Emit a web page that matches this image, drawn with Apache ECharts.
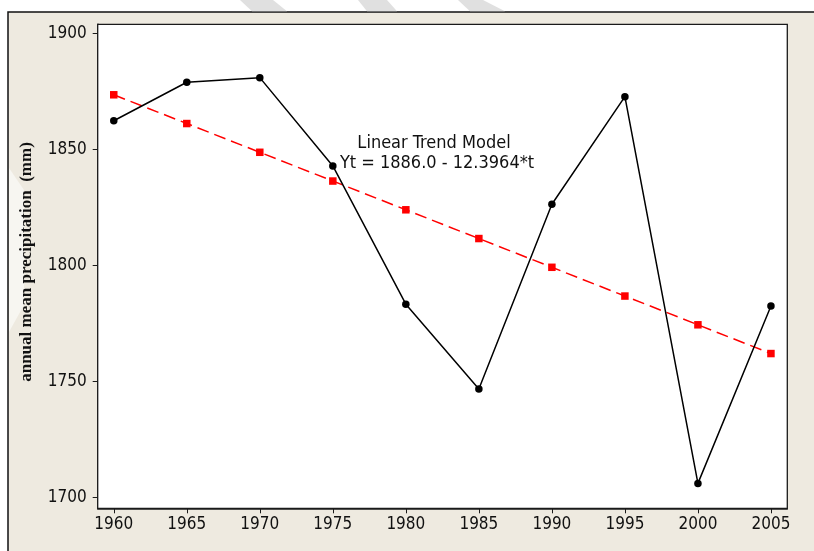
<!DOCTYPE html>
<html>
<head>
<meta charset="utf-8">
<script src="https://cdn.jsdelivr.net/npm/echarts@6/dist/echarts.min.js"></script>
<style>
  html, body { margin: 0; padding: 0; background: #ffffff; }
  #chart { width: 814px; height: 551px; }
</style>
</head>
<body>
<div id="chart"></div>
<script>
// Annual mean precipitation, 1960-2005, with a fitted linear trend
const years = [1960, 1965, 1970, 1975, 1980, 1985, 1990, 1995, 2000, 2005];
const precipitation = [1862.4, 1879.0, 1881.0, 1842.9, 1783.3, 1746.7, 1826.4, 1872.8, 1706.0, 1782.5];
// Fitted values of Yt = 1886.0 - 12.3964*t, t = 1..10
const trendFit = [1873.6, 1861.2, 1848.8, 1836.4, 1824.0, 1811.6, 1799.2, 1786.8, 1774.4, 1762.0];
const yTicks = [1700, 1750, 1800, 1850, 1900];
const yAxisTitle = 'annual mean precipitation  (mm)';
const trendTitle = 'Linear Trend Model';
const trendEquation = 'Yt = 1886.0 - 12.3964*t';

const labelFont = "'DejaVu Sans Condensed', 'Liberation Sans', sans-serif";
const beige = '#eeeae0';

const chart = echarts.init(document.getElementById('chart'), null, { renderer: 'canvas' });

chart.setOption({
  backgroundColor: '#ffffff',
  animation: false,
  grid: {
    left: 97.7, right: 26.7, top: 24.3, bottom: 42.7,
    show: true,
    backgroundColor: '#ffffff',
    borderColor: '#1a1a1a',
    borderWidth: 1.3,
    z: 2
  },
  xAxis: {
    type: 'value',
    min: 1958.9, max: 2006.12,
    axisLine: { show: true, onZero: false, lineStyle: { color: '#1a1a1a', width: 1.5 } },
    axisTick: { show: true, customValues: years, length: 5, lineStyle: { color: '#1a1a1a', width: 1 } },
    axisLabel: {
      customValues: years, margin: 8, color: '#111',
      fontFamily: labelFont, fontSize: 17,
      formatter: v => String(v)
    },
    splitLine: { show: false }
  },
  yAxis: {
    type: 'value',
    min: 1695.26, max: 1904.0,
    axisLine: { show: true, onZero: false, lineStyle: { color: '#1a1a1a', width: 1.5 } },
    axisTick: { show: true, customValues: yTicks, length: 5, lineStyle: { color: '#1a1a1a', width: 1 } },
    axisLabel: {
      customValues: yTicks, margin: 11, color: '#111',
      fontFamily: labelFont, fontSize: 17,
      formatter: v => String(v)
    },
    splitLine: { show: false }
  },
  graphic: [
    // outer panel
    {
      type: 'rect', z: -20, silent: true,
      shape: { x: 8, y: 12, width: 900, height: 600 },
      style: { fill: beige, stroke: '#111', lineWidth: 1.5 }
    },
    // faint diagonal bands of the page backdrop
    {
      type: 'polygon', z: -10, silent: true,
      shape: { points: [[240, 0], [273, 0], [287, 11.2], [252, 11.2]] },
      style: { fill: '#e0e0e0' }
    },
    {
      type: 'polygon', z: -10, silent: true,
      shape: { points: [[358, 0], [387, 0], [397, 11.2], [367, 11.2]] },
      style: { fill: '#e0e0e0' }
    },
    {
      type: 'polygon', z: -10, silent: true,
      shape: { points: [[458, 0], [483, 0], [505, 11.2], [470, 11.2]] },
      style: { fill: '#e0e0e0' }
    },
    {
      type: 'polygon', z: -10, silent: true,
      shape: { points: [[9, 168], [24, 190], [24, 305], [9, 332]] },
      style: { fill: 'rgba(255,255,255,0.55)' }
    },
    // y-axis title
    {
      type: 'text', z: 10, silent: true,
      x: 26.5, y: 262, rotation: Math.PI / 2,
      style: {
        text: yAxisTitle, fill: '#111',
        font: "bold 17px 'Liberation Serif', 'Times New Roman', serif",
        align: 'center', verticalAlign: 'middle'
      }
    },
    // trend model annotation
    {
      type: 'text', z: 10, silent: true,
      x: 434, y: 143.5,
      style: {
        text: trendTitle, fill: '#111',
        font: "18px 'DejaVu Sans Condensed', 'Liberation Sans', sans-serif",
        align: 'center', verticalAlign: 'middle'
      }
    },
    {
      type: 'text', z: 10, silent: true,
      x: 437, y: 163.5,
      style: {
        text: trendEquation, fill: '#111',
        font: "18px 'DejaVu Sans Condensed', 'Liberation Sans', sans-serif",
        align: 'center', verticalAlign: 'middle'
      }
    }
  ],
  series: [
    {
      name: 'Fits',
      type: 'line',
      data: years.map((y, i) => [y, trendFit[i]]),
      symbol: 'rect', symbolSize: 7.5,
      itemStyle: { color: '#ff0000' },
      lineStyle: { color: '#ff0000', width: 1.5, type: [12, 6] },
      z: 3
    },
    {
      name: 'Actual',
      type: 'line',
      data: years.map((y, i) => [y, precipitation[i]]),
      symbol: 'circle', symbolSize: 7.5,
      itemStyle: { color: '#000000' },
      lineStyle: { color: '#000000', width: 1.5 },
      z: 4
    }
  ]
});
</script>
</body>
</html>
